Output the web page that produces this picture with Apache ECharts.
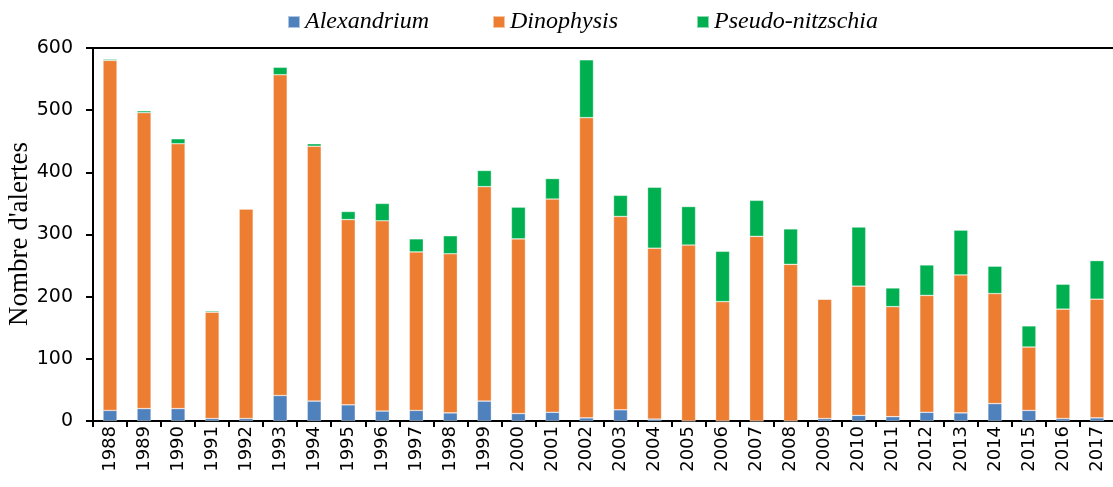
<!DOCTYPE html>
<html>
<head>
<meta charset="utf-8">
<script src="https://cdn.jsdelivr.net/npm/echarts@6/dist/echarts.min.js"></script>
<style>
  html, body { margin: 0; padding: 0; background: #fff; }
  #chart { width: 1113px; height: 487px; }
</style>
</head>
<body>
<div id="chart"></div>
<script>
const years = ['1988','1989','1990','1991','1992','1993','1994','1995','1996','1997',
               '1998','1999','2000','2001','2002','2003','2004','2005','2006','2007',
               '2008','2009','2010','2011','2012','2013','2014','2015','2016','2017'];
const alexandrium = [17, 20, 20, 4, 4, 41, 32, 26, 16, 17,
                     13, 32, 12, 14, 5, 18, 3, 0, 0, 0,
                     0, 4, 9, 7, 14, 13, 28, 17, 4, 5];
const dinophysis = [563, 476, 426, 171, 337, 516, 410, 298, 306, 255,
                    256, 345, 281, 343, 483, 311, 275, 283, 192, 297,
                    252, 192, 208, 177, 188, 222, 177, 102, 176, 191];
const pseudoNitzschia = [2, 3, 8, 2, 0, 12, 4, 13, 28, 21,
                         29, 26, 51, 33, 93, 34, 98, 62, 81, 58,
                         57, 0, 95, 30, 49, 72, 44, 34, 40, 62];
const seriesNames = ['Alexandrium', 'Dinophysis', 'Pseudo-nitzschia'];
const yAxisTitle = "Nombre d'alertes";
const yTicks = [0, 100, 200, 300, 400, 500, 600];

const chart = echarts.init(document.getElementById('chart'), null, { renderer: 'canvas' });
const barBase = { type: 'bar', stack: 'total', barWidth: 14 };
const border = { borderColor: 'rgba(255,255,255,0.55)', borderWidth: 0.6 };
const legendLefts = [282, 487, 691];

function makeLegend(name, left) {
  return {
    top: 5,
    left: left,
    itemWidth: 12,
    itemHeight: 12,
    icon: 'rect',
    selectedMode: false,
    textStyle: { fontFamily: 'Liberation Serif', fontStyle: 'italic', fontSize: 24, color: '#000' },
    data: [name]
  };
}

chart.setOption({
  animation: false,
  backgroundColor: '#ffffff',
  legend: seriesNames.map((n, i) => makeLegend(n, legendLefts[i])),
  graphic: [{
    type: 'text',
    x: 20,
    y: 234,
    rotation: Math.PI / 2,
    style: {
      text: yAxisTitle,
      fontFamily: 'Liberation Serif',
      fontSize: 27,
      fill: '#000',
      align: 'center',
      verticalAlign: 'middle'
    }
  }],
  grid: { left: 93, top: 48, width: 1021, bottom: 66, containLabel: false, outerBoundsMode: 'none' },
  xAxis: [{
    type: 'category',
    data: years,
    axisLine: { lineStyle: { color: '#000', width: 2 } },
    axisTick: { show: true, alignWithLabel: false, length: 6, lineStyle: { color: '#000', width: 2 } },
    axisLabel: { rotate: 90, fontFamily: 'DejaVu Sans', fontSize: 18, color: '#000', margin: 5 }
  }, {
    type: 'category',
    data: years,
    position: 'top',
    axisLine: { show: true, lineStyle: { color: '#000', width: 2 } },
    axisTick: { show: false },
    axisLabel: { show: false }
  }],
  yAxis: {
    type: 'value',
    min: yTicks[0],
    max: yTicks[yTicks.length - 1],
    interval: 100,
    axisLine: { show: true, lineStyle: { color: '#000', width: 2 } },
    axisTick: { show: true, length: 7, lineStyle: { color: '#000', width: 2 } },
    axisLabel: { fontFamily: 'DejaVu Sans', fontSize: 19, color: '#000', margin: 20 },
    splitLine: { show: false }
  },
  series: [
    Object.assign({}, barBase, { name: seriesNames[0], data: alexandrium, itemStyle: Object.assign({ color: '#4F81BD' }, border) }),
    Object.assign({}, barBase, { name: seriesNames[1], data: dinophysis, itemStyle: Object.assign({ color: '#ED7D31' }, border) }),
    Object.assign({}, barBase, { name: seriesNames[2], data: pseudoNitzschia, itemStyle: Object.assign({ color: '#00B050' }, border) })
  ]
});
</script>
</body>
</html>
